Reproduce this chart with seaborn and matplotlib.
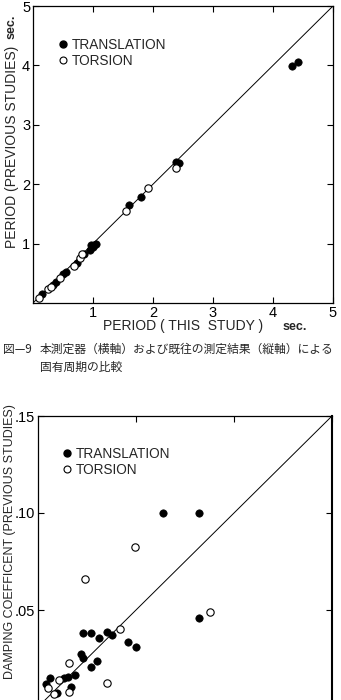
import matplotlib
matplotlib.use("Agg")
import matplotlib.pyplot as plt
from matplotlib.lines import Line2D
import seaborn as sns
import pandas as pd

# ---------------- data ----------------
# Fig 9: natural period (sec.)
period_trans_x = [0.15, 0.33, 0.38, 0.50, 0.55, 0.73, 0.85, 0.95, 0.97, 1.00, 1.02, 1.05,
                  1.60, 1.80, 2.38, 2.43, 4.32, 4.41]
period_trans_y = [0.15, 0.30, 0.35, 0.48, 0.52, 0.68, 0.82, 0.90, 0.97, 0.95, 0.98, 1.00,
                  1.65, 1.79, 2.38, 2.35, 3.99, 4.05]
period_tors_x = [0.10, 0.25, 0.30, 0.45, 0.68, 0.78, 0.82, 1.55, 1.91, 2.39]
period_tors_y = [0.09, 0.24, 0.27, 0.42, 0.62, 0.75, 0.82, 1.55, 1.94, 2.27]

# Damping coefficient
damp_trans_x = [0.064, 0.082, 0.023, 0.027, 0.031, 0.035, 0.038, 0.046, 0.050, 0.022,
                0.023, 0.030, 0.027, 0.019, 0.0155, 0.0133, 0.0061, 0.0041, 0.0168,
                0.0099, 0.082]
damp_trans_y = [0.100, 0.100, 0.0383, 0.0383, 0.0354, 0.0388, 0.0373, 0.0337, 0.0311,
                0.0273, 0.0254, 0.0235, 0.0208, 0.0165, 0.0153, 0.0148, 0.0151, 0.0117,
                0.0105, 0.0074, 0.046]
damp_tors_x = [0.0495, 0.024, 0.0418, 0.016, 0.0109, 0.005, 0.035, 0.0083, 0.0158, 0.0878]
damp_tors_y = [0.0826, 0.066, 0.0404, 0.0225, 0.0139, 0.0100, 0.0125, 0.0065, 0.0076, 0.049]

period_ticks = [1, 2, 3, 4, 5]
period_ticklabels = ["1", "2", "3", "4", "5"]
damp_ticks = [0.05, 0.10, 0.15]
damp_ticklabels = [".05", ".10", ".15"]
legend_labels = ["TRANSLATION", "TORSION"]

# ---------------- style ----------------
sns.set_style("ticks")
plt.rcParams["font.family"] = ["Liberation Sans", "DejaVu Sans"]
jp_family = ["Noto Sans CJK JP", "DejaVu Sans"]

fig = plt.figure(figsize=(3.41, 7.0), dpi=100)

ms = 28
lw_sp = 0.9


def style_axes(ax, lim, ticks, ticklabels, right_lw=None, show_xlabels=True):
    ax.set_xlim(0, lim)
    ax.set_ylim(0, lim)
    ax.plot(ax.get_xlim(), ax.get_ylim(), color="black", lw=0.7, zorder=1)
    ax.set_xticks(ticks)
    ax.set_yticks(ticks)
    ax.set_xticklabels(ticklabels if show_xlabels else [""] * len(ticks))
    ax.set_yticklabels(ticklabels)
    ax.tick_params(direction="in", length=4, width=0.8, top=True, right=True,
                   labelsize=10.5, pad=2, colors="black")
    for s in ax.spines.values():
        s.set_visible(True)
        s.set_linewidth(lw_sp)
        s.set_color("black")
    if right_lw:
        ax.spines["right"].set_linewidth(right_lw)
    ax.set_xlabel("")
    ax.set_ylabel("")
    handles = [
        Line2D([], [], marker="o", ls="", markersize=5, markerfacecolor="black",
               markeredgecolor="black"),
        Line2D([], [], marker="o", ls="", markersize=5, markerfacecolor="white",
               markeredgecolor="black", markeredgewidth=0.8),
    ]
    return handles


# ---------- top chart ----------
ax1 = fig.add_axes([33 / 341, 1 - 303 / 700, 300 / 341, 297 / 700])
df_t = pd.DataFrame({"x": period_trans_x, "y": period_trans_y})
df_o = pd.DataFrame({"x": period_tors_x, "y": period_tors_y})
sns.scatterplot(data=df_t, x="x", y="y", ax=ax1, s=ms, color="black",
                edgecolor="black", linewidth=0.5, zorder=3)
sns.scatterplot(data=df_o, x="x", y="y", ax=ax1, s=ms, facecolor="white",
                edgecolor="black", linewidth=0.8, zorder=4)
h = style_axes(ax1, 5, period_ticks, period_ticklabels)
ax1.legend(h, legend_labels, loc="center left", bbox_to_anchor=(0.085, 0.842),
           frameon=False, handlelength=0.6, handletextpad=0.35, labelspacing=0.15,
           borderpad=0, borderaxespad=0, fontsize=9.8)

fig.text(12 / 341, 1 - 147 / 700, "PERIOD (PREVIOUS STUDIES)", rotation=90,
         ha="center", va="center", fontsize=10)
fig.text(12 / 341, 1 - 27 / 700, "sec.", rotation=90, ha="center", va="center",
         fontsize=9, fontweight="bold")
fig.text(183 / 341, 1 - 326 / 700, "PERIOD ( THIS  STUDY )", ha="center",
         va="center", fontsize=10)
fig.text(295 / 341, 1 - 327 / 700, "sec.", ha="center", va="center",
         fontsize=9, fontweight="bold")

# caption
cap_fs = 8.5
fig.text(3 / 341, 1 - 349 / 700, "図—9", ha="left", va="center", fontsize=cap_fs,
         family=jp_family)
fig.text(40 / 341, 1 - 349 / 700, "本測定器（横軸）および既往の測定結果（縦軸）による",
         ha="left", va="center", fontsize=cap_fs, family=jp_family)
fig.text(40 / 341, 1 - 367 / 700, "固有周期の比較", ha="left", va="center",
         fontsize=cap_fs, family=jp_family)

# ---------- bottom chart ----------
ax2 = fig.add_axes([38 / 341, 1 - 707 / 700, 294 / 341, 291 / 700])
dd_t = pd.DataFrame({"x": damp_trans_x, "y": damp_trans_y})
dd_o = pd.DataFrame({"x": damp_tors_x, "y": damp_tors_y})
sns.scatterplot(data=dd_t, x="x", y="y", ax=ax2, s=ms, color="black",
                edgecolor="black", linewidth=0.5, zorder=3)
sns.scatterplot(data=dd_o, x="x", y="y", ax=ax2, s=ms, facecolor="white",
                edgecolor="black", linewidth=0.8, zorder=4)
h2 = style_axes(ax2, 0.15, damp_ticks, damp_ticklabels, right_lw=1.5,
                show_xlabels=False)
ax2.legend(h2, legend_labels, loc="center left", bbox_to_anchor=(0.085, 0.842),
           frameon=False, handlelength=0.6, handletextpad=0.35, labelspacing=0.15,
           borderpad=0, borderaxespad=0, fontsize=9.8)

fig.text(10 / 341, 1 - 542 / 700, "DAMPING COEFFICENT (PREVIOUS STUDIES)",
         rotation=90, ha="center", va="center", fontsize=9)

fig.savefig("out.png", dpi=100)
